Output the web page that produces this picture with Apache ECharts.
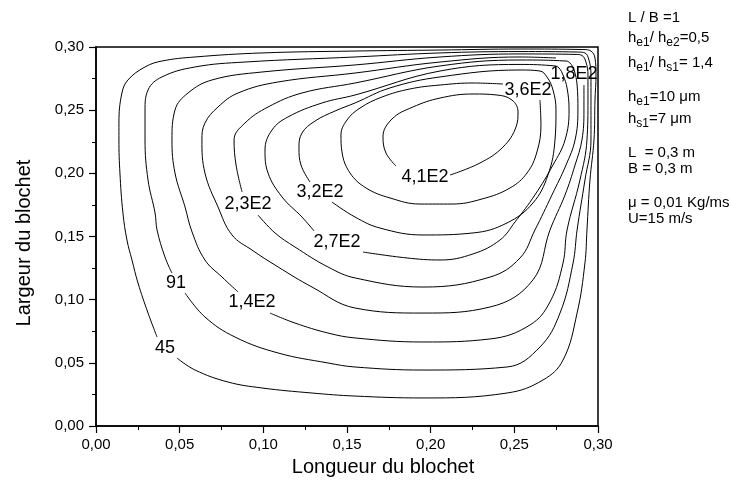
<!DOCTYPE html>
<html>
<head>
<meta charset="utf-8">
<script src="https://cdn.jsdelivr.net/npm/echarts@6/dist/echarts.min.js"></script>
<style>
  html, body { margin: 0; padding: 0; background: #fff; }
  #chart { width: 731px; height: 496px; }
</style>
</head>
<body>
<div id="chart"></div>
<script>
// Iso-pressure lines over the slider pad (x = length, y = width, in metres).
// Each path starts just after its label and runs round the loop back to it.
const c45 = [[0.0484,0.0538],[0.0592,0.0443],[0.0789,0.0348],[0.0992,0.0301],[0.1291,0.0261],[0.1548,0.0237],[0.1954,0.0222],[0.2456,0.0261],[0.2671,0.0364],[0.2791,0.0522],[0.2875,0.0894],[0.2922,0.1290],[0.2934,0.1551],[0.2952,0.1947],[0.2976,0.2264],[0.2982,0.2580],[0.2988,0.2778],[0.2982,0.2913],[0.2958,0.2968],[0.2910,0.2980],[0.2534,0.2984],[0.2056,0.2976],[0.1548,0.2968],[0.0992,0.2953],[0.0592,0.2921],[0.0394,0.2889],[0.0293,0.2842],[0.0191,0.2739],[0.0155,0.2636],[0.0137,0.2398],[0.0137,0.2264],[0.0143,0.2003],[0.0161,0.1686],[0.0185,0.1472],[0.0215,0.1314],[0.0251,0.1132],[0.0311,0.0894],[0.0365,0.0704]];

const c91 = [[0.0532,0.1053],[0.0651,0.0863],[0.0831,0.0704],[0.1088,0.0578],[0.1386,0.0499],[0.1548,0.0467],[0.1954,0.0443],[0.2456,0.0467],[0.2653,0.0625],[0.2773,0.0894],[0.2851,0.1290],[0.2875,0.1551],[0.2922,0.1947],[0.2958,0.2264],[0.2958,0.2580],[0.2958,0.2778],[0.2946,0.2897],[0.2922,0.2953],[0.2880,0.2960],[0.2534,0.2964],[0.2056,0.2953],[0.1548,0.2921],[0.0890,0.2881],[0.0592,0.2842],[0.0394,0.2763],[0.0311,0.2660],[0.0293,0.2501],[0.0293,0.2264],[0.0311,0.1947],[0.0353,0.1686],[0.0365,0.1551],[0.0412,0.1338],[0.0454,0.1211]];

const c140 = [[0.1040,0.0894],[0.1189,0.0815],[0.1386,0.0736],[0.1548,0.0697],[0.1954,0.0665],[0.2355,0.0689],[0.2594,0.0800],[0.2713,0.0982],[0.2791,0.1290],[0.2815,0.1551],[0.2892,0.1947],[0.2934,0.2264],[0.2940,0.2580],[0.2940,0.2778],[0.2928,0.2881],[0.2904,0.2933],[0.2869,0.2941],[0.2534,0.2945],[0.2056,0.2921],[0.1548,0.2858],[0.0992,0.2802],[0.0693,0.2739],[0.0550,0.2636],[0.0472,0.2501],[0.0454,0.2264],[0.0472,0.2003],[0.0532,0.1734],[0.0574,0.1536],[0.0651,0.1314],[0.0753,0.1179],[0.0849,0.1061]];

const c180 = [[0.2749,0.2913],[0.2534,0.2921],[0.2056,0.2881],[0.1548,0.2794],[0.1088,0.2723],[0.0849,0.2636],[0.0729,0.2525],[0.0651,0.2398],[0.0633,0.2264],[0.0651,0.2003],[0.0729,0.1734],[0.0813,0.1512],[0.0932,0.1393],[0.1088,0.1259],[0.1291,0.1100],[0.1548,0.0934],[0.1954,0.0894],[0.2355,0.0942],[0.2611,0.1156],[0.2713,0.1551],[0.2803,0.1829],[0.2863,0.2066],[0.2904,0.2264],[0.2916,0.2501],[0.2916,0.2699]];

const c230 = [[0.0968,0.1670],[0.1070,0.1528],[0.1189,0.1417],[0.1386,0.1259],[0.1548,0.1172],[0.1954,0.1100],[0.2355,0.1179],[0.2534,0.1330],[0.2623,0.1551],[0.2725,0.1829],[0.2809,0.2066],[0.2863,0.2264],[0.2880,0.2501],[0.2875,0.2699],[0.2857,0.2818],[0.2833,0.2873],[0.2809,0.2889],[0.2534,0.2897],[0.2056,0.2850],[0.1548,0.2715],[0.1231,0.2636],[0.1028,0.2525],[0.0890,0.2398],[0.0825,0.2264],[0.0837,0.2066],[0.0873,0.1852]];

const c270 = [[0.1596,0.1377],[0.1859,0.1330],[0.2056,0.1314],[0.2253,0.1362],[0.2414,0.1472],[0.2504,0.1615],[0.2623,0.1829],[0.2731,0.2066],[0.2803,0.2264],[0.2827,0.2501],[0.2815,0.2676],[0.2791,0.2778],[0.2767,0.2834],[0.2743,0.2850],[0.2534,0.2862],[0.2056,0.2810],[0.1548,0.2620],[0.1351,0.2557],[0.1147,0.2446],[0.1052,0.2343],[0.1010,0.2185],[0.1028,0.2003],[0.1112,0.1813],[0.1231,0.1654],[0.1303,0.1544]];

const c320 = [[0.1410,0.1773],[0.1548,0.1654],[0.1697,0.1567],[0.1954,0.1512],[0.2253,0.1528],[0.2456,0.1607],[0.2611,0.1765],[0.2701,0.1987],[0.2743,0.2264],[0.2749,0.2501],[0.2731,0.2660],[0.2695,0.2763],[0.2653,0.2810],[0.2534,0.2818],[0.2056,0.2763],[0.1757,0.2676],[0.1548,0.2557],[0.1428,0.2493],[0.1309,0.2414],[0.1231,0.2319],[0.1213,0.2201],[0.1225,0.2066],[0.1279,0.1931]];

const c360 = [[0.2653,0.2580],[0.2659,0.2383],[0.2635,0.2169],[0.2576,0.2003],[0.2474,0.1884],[0.2307,0.1797],[0.2127,0.1757],[0.1936,0.1757],[0.1757,0.1805],[0.1614,0.1884],[0.1518,0.2003],[0.1470,0.2169],[0.1464,0.2303],[0.1500,0.2422],[0.1578,0.2517],[0.1709,0.2604],[0.1877,0.2668],[0.2056,0.2699],[0.2253,0.2715],[0.2432,0.2707]];

const c410 = [[0.2116,0.1987],[0.2295,0.2082],[0.2432,0.2208],[0.2510,0.2367],[0.2522,0.2486],[0.2486,0.2580],[0.2396,0.2620],[0.2253,0.2628],[0.2056,0.2596],[0.1894,0.2525],[0.1769,0.2430],[0.1715,0.2288],[0.1733,0.2161],[0.1793,0.2058]];

// Level labels: [x, y, text]
const levelLabels = [
  [0.0412, 0.0617, '45'],
  [0.0478, 0.1132, '91'],
  [0.0932, 0.0982, '1,4E2'],
  [0.2857, 0.2786, '1,8E2'],
  [0.0908, 0.1757, '2,3E2'],
  [0.1440, 0.1456, '2,7E2'],
  [0.1339, 0.1852, '3,2E2'],
  [0.2582, 0.2660, '3,6E2'],
  [0.1966, 0.1971, '4,1E2']
];

const xTickLabels = ['0,00', '0,05', '0,10', '0,15', '0,20', '0,25', '0,30'];
const yTickLabels = ['0,00', '0,05', '0,10', '0,15', '0,20', '0,25', '0,30'];

const contours = [c45, c91, c140, c180, c230, c270, c320, c360, c410];

const FONT = '"Liberation Sans", Arial, Helvetica, sans-serif';

function axisCommon(labels) {
  return {
    type: 'value',
    min: 0,
    max: 0.3,
    interval: 0.05,
    axisLine: { show: true, lineStyle: { color: '#000', width: 1.5 } },
    axisTick: { show: true, inside: false, length: 7, lineStyle: { color: '#000', width: 1.2 } },
    minorTick: { show: true, splitNumber: 2, length: 4, lineStyle: { color: '#000', width: 1 } },
    splitLine: { show: false },
    minorSplitLine: { show: false },
    axisLabel: {
      color: '#000',
      fontSize: 15,
      fontFamily: FONT,
      formatter: v => labels[Math.round(v / 0.05)]
    }
  };
}

const xAxis = axisCommon(xTickLabels);
xAxis.axisLabel.margin = 11;
const yAxis = axisCommon(yTickLabels);
yAxis.axisLabel.margin = 12;

const series = contours.map(pts => ({
  type: 'line',
  data: pts,
  smooth: 0.4,
  symbol: 'none',
  silent: true,
  lineStyle: { color: '#000', width: 1 }
}));

series.push({
  type: 'scatter',
  symbolSize: 0,
  silent: true,
  itemStyle: { opacity: 1 },
  data: levelLabels.map(l => ({ value: [l[0], l[1]], name: l[2] })),
  label: {
    show: true,
    position: 'inside',
    formatter: '{b}',
    color: '#000',
    opacity: 1,
    textBorderWidth: 0,
    fontSize: 18,
    fontFamily: FONT
  }
});

// Parameter notes on the right-hand side
const sub = { fontSize: 12, fontFamily: FONT, fill: '#000', verticalAlign: 'top', padding: [7, 0, 0, 0] };
const nrm = { fontSize: 15, fontFamily: FONT, fill: '#000', verticalAlign: 'top' };
const notes = [
  ['{n|L / B =1}', 10],
  ['{n|h}{s|e1}{n|/ h}{s|e2}{n|=0,5}', 30],
  ['{n|h}{s|e1}{n|/ h}{s|s1}{n|= 1,4}', 55],
  ['{n|h}{s|e1}{n|=10 μm}', 89],
  ['{n|h}{s|s1}{n|=7 μm}', 111],
  ['{n|L  = 0,3 m}', 145],
  ['{n|B = 0,3 m}', 161],
  ['{n|μ = 0,01 Kg/ms}', 195],
  ['{n|U=15 m/s}', 211]
];

const graphic = notes.map(n => ({
  type: 'text',
  left: 628,
  top: n[1],
  silent: true,
  style: { text: n[0], rich: { n: nrm, s: sub }, fill: '#000' }
}));

graphic.push({
  type: 'text',
  x: 383,
  y: 467,
  silent: true,
  style: {
    text: 'Longueur du blochet', fontSize: 20, fontFamily: FONT, fill: '#000',
    align: 'center', verticalAlign: 'middle'
  }
});
graphic.push({
  type: 'text',
  x: 24,
  y: 243,
  rotation: Math.PI / 2,
  silent: true,
  style: {
    text: 'Largeur du blochet', fontSize: 20, fontFamily: FONT, fill: '#000',
    align: 'center', verticalAlign: 'middle'
  }
});

const chart = echarts.init(document.getElementById('chart'), null, { renderer: 'canvas' });
chart.setOption({
  animation: false,
  backgroundColor: '#fff',
  grid: {
    left: 96, right: 133, top: 47, bottom: 70,
    show: true, borderColor: '#000', borderWidth: 1.5,
    backgroundColor: 'transparent'
  },
  xAxis: xAxis,
  yAxis: yAxis,
  series: series,
  graphic: graphic
});
</script>
</body>
</html>
